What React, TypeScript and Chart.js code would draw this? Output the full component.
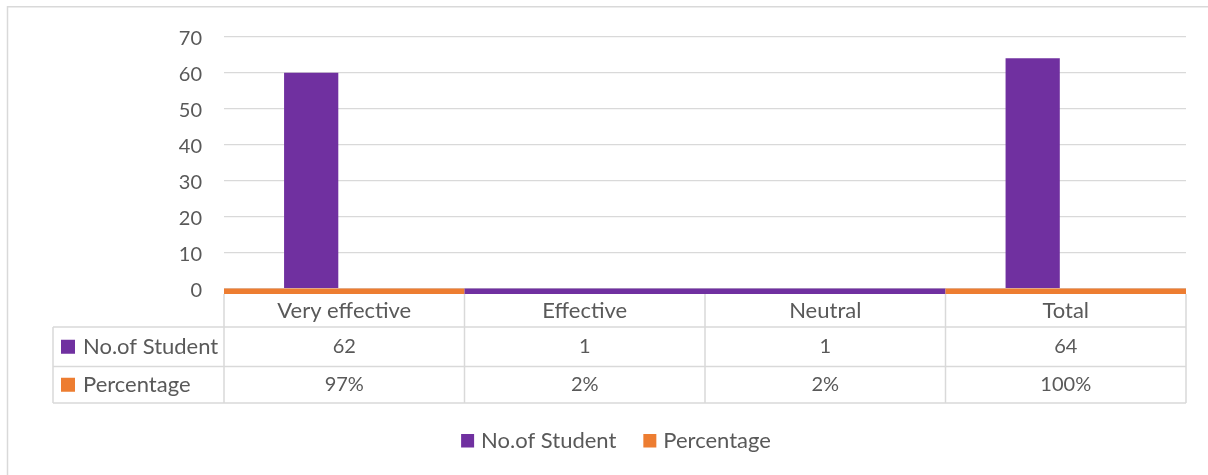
import React, { useEffect, useRef } from "react";
import { Chart, registerables } from "chart.js";

Chart.register(...registerables);

// ---- data ----
const categories = ["Very effective", "Effective", "Neutral", "Total"];
const seriesNames = ["No.of Student", "Percentage"];
const studentTable = ["62", "1", "1", "64"];
const percentageTable = ["97%", "2%", "2%", "100%"];
// heights of the purple columns as drawn in the plot
const studentColumns = [60, 0, 0, 64];
// series whose colour lines each category along the axis
const stripSeries = ["Percentage", "No.of Student", "No.of Student", "Percentage"];
const yTicks = [0, 10, 20, 30, 40, 50, 60, 70];

// ---- style ----
const PURPLE = "#7030A0";
const ORANGE = "#ED7D31";
const TEXT = "#595959";
const LINE = "#D9D9D9";
const FONT = "Lato, 'Open Sans', sans-serif";
const WORD_SIZE = 22;
const NUM_SIZE = 20;
const Y_MIN = -1.5;
const Y_MAX = 70;
const seriesColors = [PURPLE, ORANGE];
const colorOf = (name: string) => seriesColors[seriesNames.indexOf(name)];

const framePlugin = {
  id: "frame",
  beforeDraw(chart: any) {
    const { ctx } = chart;
    ctx.save();
    ctx.fillStyle = "#ffffff";
    ctx.fillRect(0, 0, chart.width, chart.height);
    ctx.strokeStyle = LINE;
    ctx.lineWidth = 1.5;
    ctx.beginPath();
    ctx.moveTo(7.5, chart.height);
    ctx.lineTo(7.5, 6.7);
    ctx.lineTo(chart.width, 6.7);
    ctx.stroke();
    ctx.restore();
  },
};

const tablePlugin = {
  id: "dataTable",
  afterDraw(chart: any) {
    const { ctx, chartArea } = chart;
    const xs = chart.scales.x;
    const n = categories.length;
    const colW = (chartArea.right - chartArea.left) / n;
    const top = chartArea.bottom;
    const r1 = top + 33;
    const r2 = top + 72.5;
    const r3 = top + 109;
    const labelLeft = 53;
    ctx.save();
    ctx.strokeStyle = LINE;
    ctx.lineWidth = 1.5;
    ctx.beginPath();
    for (let i = 0; i <= n; i++) {
      const px = chartArea.left + i * colW;
      ctx.moveTo(px, top);
      ctx.lineTo(px, r3);
    }
    ctx.moveTo(labelLeft, r1);
    ctx.lineTo(labelLeft, r3);
    [r1, r2, r3].forEach((y) => {
      ctx.moveTo(labelLeft, y);
      ctx.lineTo(chartArea.right, y);
    });
    ctx.stroke();

    ctx.fillStyle = TEXT;
    ctx.textAlign = "center";
    ctx.textBaseline = "middle";
    categories.forEach((c, i) => {
      const cx = xs.getPixelForValue(i);
      ctx.font = `${WORD_SIZE}px ${FONT}`;
      ctx.fillText(c, cx, (top + r1) / 2);
      ctx.font = `${NUM_SIZE}px ${FONT}`;
      ctx.fillText(studentTable[i], cx, (r1 + r2) / 2);
      ctx.fillText(percentageTable[i], cx, (r2 + r3) / 2);
    });

    // row headers with keys
    ctx.font = `${WORD_SIZE}px ${FONT}`;
    const rows = [(r1 + r2) / 2, (r2 + r3) / 2];
    rows.forEach((cy, k) => {
      ctx.fillStyle = seriesColors[k];
      ctx.fillRect(61, cy - 7, 14, 14);
      ctx.fillStyle = TEXT;
      ctx.textAlign = "left";
      ctx.fillText(seriesNames[k], 83, cy);
    });

    // legend
    const w1 = ctx.measureText(seriesNames[0]).width;
    const w2 = ctx.measureText(seriesNames[1]).width;
    const total = 13 + 7 + w1 + 27 + 13 + 7 + w2;
    let lx = 616 - total / 2;
    const ly = 441;
    [w1, w2].forEach((w, k) => {
      ctx.fillStyle = seriesColors[k];
      ctx.fillRect(lx, ly - 7, 13, 13.5);
      ctx.fillStyle = TEXT;
      ctx.textAlign = "left";
      ctx.fillText(seriesNames[k], lx + 20, ly);
      lx += 20 + w + 27;
    });
    ctx.restore();
  },
};

export default function App() {
  const canvasRef = useRef<HTMLCanvasElement | null>(null);

  useEffect(() => {
    if (!canvasRef.current) return;
    // category boundaries 0..n along a linear twin axis
    const stripPoints = Array.from({ length: categories.length + 1 }, (_, i) => ({
      x: i,
      y: Y_MIN / 2,
    }));
    const chart = new Chart(canvasRef.current, {
      type: "bar",
      data: {
        labels: categories,
        datasets: [
          {
            label: seriesNames[0],
            data: studentColumns,
            backgroundColor: PURPLE,
            xAxisID: "x",
            barPercentage: 0.82,
            categoryPercentage: 0.55,
            order: 2,
          },
          {
            type: "line",
            label: "axis strip",
            data: stripPoints as any,
            xAxisID: "xs",
            borderWidth: 5.5,
            borderCapStyle: "butt",
            pointRadius: 0,
            tension: 0,
            borderColor: PURPLE,
            segment: {
              borderColor: (c: any) => colorOf(stripSeries[c.p0DataIndex]),
            },
            order: 1,
          } as any,
        ],
      },
      options: {
        animation: false,
        responsive: false,
        maintainAspectRatio: false,
        layout: { padding: { top: 36.7, right: 22, bottom: 72, left: 0 } },
        plugins: {
          legend: { display: false },
          tooltip: { enabled: false },
        },
        scales: {
          x: {
            type: "category",
            offset: true,
            grid: { display: false },
            border: { display: false },
            ticks: { display: false },
            afterFit: (s: any) => {
              s.height = 109;
            },
          },
          xs: {
            type: "linear",
            min: 0,
            max: categories.length,
            offset: false,
            display: false,
          },
          y: {
            min: Y_MIN,
            max: Y_MAX,
            afterBuildTicks: (s: any) => {
              s.ticks = yTicks.map((v) => ({ value: v }));
            },
            afterFit: (s: any) => {
              s.width = 224;
            },
            grid: { color: LINE, lineWidth: 1.3, drawTicks: false },
            border: { display: false },
            ticks: {
              padding: 22,
              labelOffset: 2,
              color: TEXT,
              font: { family: FONT, size: NUM_SIZE },
            },
          },
        },
      },
      plugins: [framePlugin, tablePlugin],
    });
    return () => chart.destroy();
  }, []);

  return (
    <div style={{ position: "fixed", left: 0, top: 0, width: 1208, height: 475, background: "#fff" }}>
      <canvas ref={canvasRef} width={1208} height={475} style={{ width: 1208, height: 475, display: "block" }} />
    </div>
  );
}
